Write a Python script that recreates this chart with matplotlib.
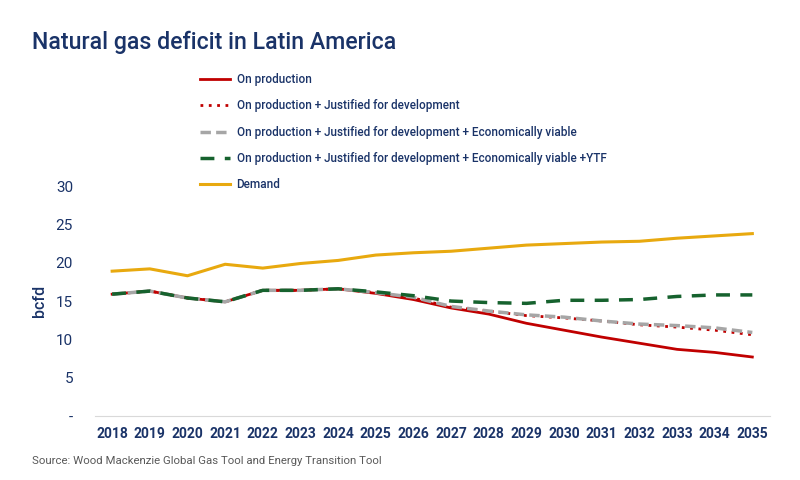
import matplotlib
matplotlib.use("Agg")
import matplotlib.pyplot as plt

plt.rcParams['font.family'] = ['Roboto', 'DejaVu Sans']

NAVY = "#1A3368"

years = list(range(2018, 2036))

on_production = [15.9, 16.3, 15.4, 14.9, 16.4, 16.4, 16.6, 16.0, 15.2, 14.1, 13.3, 12.1, 11.2, 10.3, 9.5, 8.7, 8.3, 7.7]
justified = [15.9, 16.3, 15.4, 14.9, 16.4, 16.4, 16.6, 16.1, 15.4, 14.2, 13.7, 13.1, 12.8, 12.4, 11.9, 11.6, 11.2, 10.6]
econ_viable = [15.9, 16.3, 15.4, 14.9, 16.4, 16.4, 16.6, 16.1, 15.5, 14.3, 13.7, 13.2, 12.9, 12.4, 12.0, 11.8, 11.5, 10.9]
with_ytf = [15.9, 16.3, 15.4, 14.9, 16.4, 16.4, 16.6, 16.2, 15.7, 15.0, 14.8, 14.7, 15.1, 15.1, 15.2, 15.6, 15.8, 15.8]
demand = [18.9, 19.2, 18.3, 19.8, 19.3, 19.9, 20.3, 21.0, 21.3, 21.5, 21.9, 22.3, 22.5, 22.7, 22.8, 23.2, 23.5, 23.8]

labels = ["On production",
          "On production + Justified for development",
          "On production + Justified for development + Economically viable",
          "On production + Justified for development + Economically viable +YTF",
          "Demand"]

fig = plt.figure(figsize=(8, 4.8), dpi=100)
ax = fig.add_axes([0.119, 0.1333, 0.844, 0.479])

l1, = ax.plot(years, on_production, color="#C00000", lw=2, zorder=2)
l2, = ax.plot(years, justified, color="#C00000", lw=2, ls=(0, (1, 2)), zorder=3)
l3, = ax.plot(years, econ_viable, color="#A6A6A6", lw=2.5, ls=(0, (3, 1.5)), zorder=4)
l4, = ax.plot(years, with_ytf, color="#16622E", lw=2.5, ls=(0, (4, 3)), zorder=5)
l5, = ax.plot(years, demand, color="#E8A90F", lw=2.2, zorder=6)

ax.set_xlim(2017.55, 2035.48)
ax.set_ylim(0, 30)
ax.set_xticks(years)
ax.set_yticks([0, 5, 10, 15, 20, 25, 30])
ax.set_yticklabels(["-", "5", "10", "15", "20", "25", "30"])
for s in ["top", "right", "left"]:
    ax.spines[s].set_visible(False)
ax.spines["bottom"].set_color("#D9D9D9")
ax.tick_params(axis="both", length=0)
ax.tick_params(axis="y", pad=16, labelsize=11, labelcolor=NAVY)
ax.tick_params(axis="x", pad=8, labelsize=10, labelcolor=NAVY)
for t in ax.get_xticklabels():
    t.set_fontweight("bold")
ax.set_ylabel("bcfd", fontsize=11.5, color=NAVY, labelpad=6, fontweight="medium")

fig.legend([l1, l2, l3, l4, l5], labels, loc="upper left",
           bbox_to_anchor=(0.25, 1 - 73 / 480), frameon=False,
           handlelength=2.55, handletextpad=0.55, labelspacing=1.13,
           borderpad=0, borderaxespad=0,
           prop={"size": 8.5, "weight": "medium"}, labelcolor=NAVY)

fig.text(0.04, 1 - 42 / 480, "Natural gas deficit in Latin America",
         fontsize=16.7, color=NAVY, fontweight="medium", va="center")
fig.text(0.04, 1 - 461 / 480,
         "Source: Wood Mackenzie Global Gas Tool and Energy Transition Tool",
         fontsize=8.2, color="#595959", va="center")

fig.savefig("out.png", dpi=100)
